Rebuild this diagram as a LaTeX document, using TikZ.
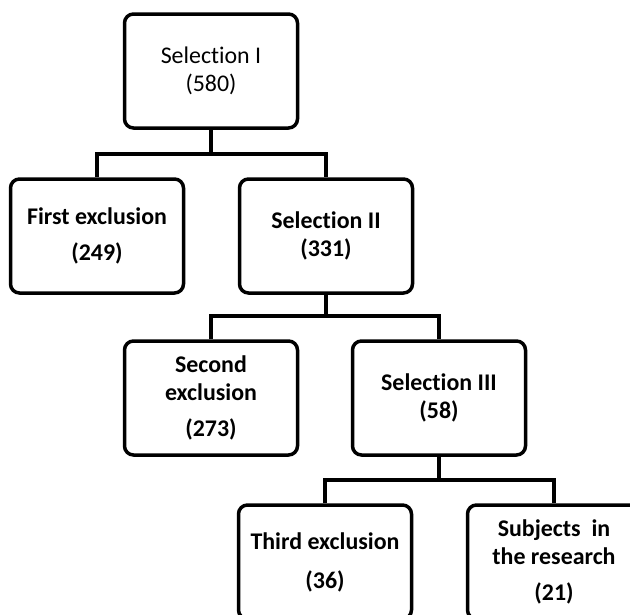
\documentclass[tikz,border=0pt]{standalone}
\usepackage{fontspec}
\setmainfont{Carlito}[Ligatures=NoCommon]
\usetikzlibrary{arrows,shapes}

\begin{document}
\begin{tikzpicture}[
  stage/.style={draw,line width=3.5bp,rounded corners=9bp,minimum width=173bp,minimum height=114bp,align=center,font=\fontsize{24}{28}\selectfont},
  strong/.style={font=\fontsize{24}{28}\selectfont\bfseries},
  link/.style={line width=3.5bp}]
\useasboundingbox (0bp,0bp) rectangle (630bp,-615bp);
\clip (0bp,0bp) rectangle (630bp,-615bp);
\node (S1) at (211bp,-71bp)[stage] {Selection I\\(580)};
\node (E1) at (97bp,-236bp)[stage,strong] {First exclusion\\[8bp](249)};
\node (S2) at (326bp,-236bp)[stage,strong] {Selection II\\(331)};
\node (E2) at (211bp,-398bp)[stage,strong] {Second\\exclusion\\[9bp](273)};
\node (S3) at (439bp,-398bp)[stage,strong] {Selection III\\(58)};
\node (E3) at (325bp,-562bp)[stage,strong] {Third exclusion\\[11bp](36)};
\node (R) at (554bp,-562bp)[stage,strong] {Subjects\ \ in\\the research\\[9bp](21)};
\coordinate (J1) at (211bp,-154bp);
\coordinate (J2) at (326bp,-316bp);
\coordinate (J3) at (439bp,-480bp);
\draw [link] (E1.north) |- (J1) -| (S2.north);
\draw [link] (S1.south) -- (J1);
\draw [link] (E2.north) |- (J2) -| (S3.north);
\draw [link] (S2.south) -- (J2);
\draw [link] (E3.north) |- (J3) -| (R.north);
\draw [link] (S3.south) -- (J3);
\end{tikzpicture}
\end{document}
